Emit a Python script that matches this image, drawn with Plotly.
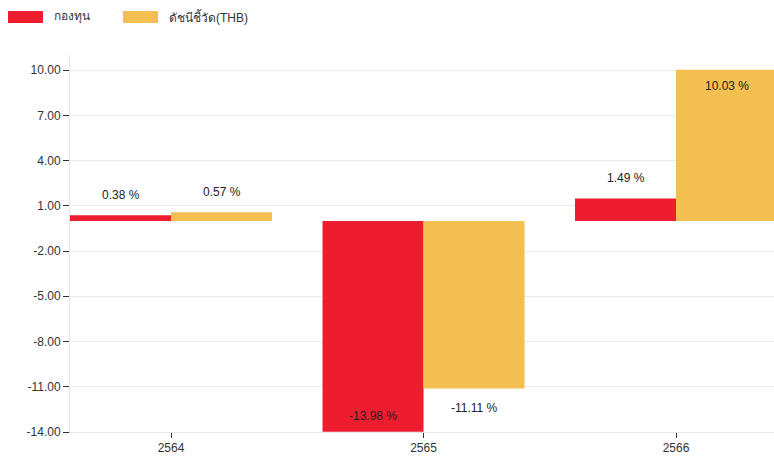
import plotly.graph_objects as go

categories = ["2564", "2565", "2566"]
fund_values = [0.38, -13.98, 1.49]
bench_values = [0.57, -11.11, 10.03]
series_names = ["กองทุน", "ดัชนีชี้วัด(THB)"]
colors = ["#ED1C2E", "#F2BF50"]
y_ticks = [-14, -11, -8, -5, -2, 1, 4, 7, 10]
y_range = [-14, 11]

FONT = "Liberation Sans, Arial, sans-serif"
W, H = 774, 456

fig = go.Figure()
for name, vals, col in zip(series_names, [fund_values, bench_values], colors):
    fig.add_trace(go.Bar(x=categories, y=vals, name=name, marker=dict(color=col, line=dict(width=0)),
                         showlegend=False, hoverinfo="skip"))

# value labels
annotations = []
for k, vals in enumerate([fund_values, bench_values]):
    off = -0.2 if k == 0 else 0.2
    for i, v in enumerate(vals):
        sign = 1 if v >= 0 else -1
        inside = (v + sign * 1.6 > y_range[1]) or (v + sign * 1.6 < y_range[0])
        shift = (-16 if inside else 20) * sign
        annotations.append(dict(x=i + off, y=v, xref="x", yref="y", text=f"{v:.2f} %",
                                showarrow=False, yshift=shift, xanchor="center", yanchor="middle",
                                font=dict(family=FONT, size=12, color="#222")))

# custom legend (page pixel coordinates)
plot_l, plot_r, plot_t, plot_b = 70, 774, 55, 432
pw, ph = plot_r - plot_l, plot_b - plot_t
def px(x):
    return (x - plot_l) / pw
def py(y):
    return (plot_b - y) / ph
shapes = []
legend_pos = [(8, 52), (123, 167)]
for (rx, tx), name, col in zip(legend_pos, series_names, colors):
    shapes.append(dict(type="rect", xref="paper", yref="paper", x0=px(rx), x1=px(rx + 35),
                       y0=py(23), y1=py(11), fillcolor=col, line=dict(width=0)))
    annotations.append(dict(x=px(tx), y=py(17), xref="paper", yref="paper", text=name, showarrow=False,
                            xanchor="left", yanchor="middle",
                            font=dict(family=FONT, size=12, color="#333")))

fig.update_layout(
    width=W, height=H,
    margin=dict(l=plot_l, r=W - plot_r, t=plot_t, b=H - plot_b, autoexpand=False),
    paper_bgcolor="white", plot_bgcolor="white",
    barmode="group", bargap=0.2, bargroupgap=0,
    showlegend=False,
    annotations=annotations, shapes=shapes,
    font=dict(family=FONT, size=12, color="#333"),
)
fig.update_xaxes(type="category", range=[-0.4, 2.388], showgrid=False, showline=True, linecolor="#e6e6e6",
                 ticks="outside", ticklen=5, tickcolor="#333", tickfont=dict(size=12, color="#333"))
fig.update_yaxes(range=y_range, tickvals=y_ticks, ticktext=[f"{t:.2f}" for t in y_ticks],
                 showgrid=True, gridcolor="#ebebeb", gridwidth=1, zeroline=False,
                 showline=True, linecolor="#e6e6e6", ticks="outside", ticklen=6, tickcolor="#333",
                 tickfont=dict(size=12, color="#333"))

fig.write_html("out.html", config={"displayModeBar": False},
               post_script="document.body.style.margin='0';document.body.style.overflow='hidden';")
